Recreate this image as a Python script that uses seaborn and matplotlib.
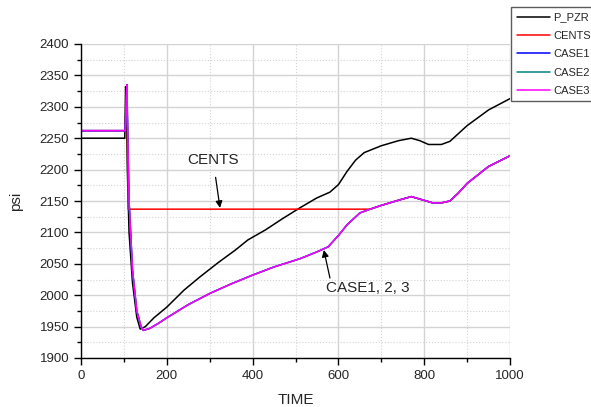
import matplotlib
matplotlib.use("Agg")
import matplotlib.pyplot as plt
from matplotlib.ticker import MultipleLocator
import numpy as np
import pandas as pd
import seaborn as sns

# values
pzr_time = [0, 100, 102, 104, 106, 108, 112, 120, 130, 138, 150, 170, 200, 240, 277, 320, 360, 389,
            430, 470, 510, 550, 580, 600, 620, 640, 660, 700, 740, 770, 790, 810, 840, 860,
            900, 950, 1000]
pzr_val = [2250, 2250, 2250, 2332, 2300, 2200, 2100, 2020, 1965, 1946, 1950, 1964, 1981, 2008, 2029,
           2052, 2072, 2088, 2104, 2122, 2139, 2155, 2164, 2176, 2197, 2215, 2227, 2238, 2246, 2250,
           2246, 2240, 2240, 2245, 2270, 2295, 2313]

case_time = [0, 100, 103, 105, 107, 109, 112, 120, 130, 140, 145, 160, 180, 200, 250, 301, 350,
             400, 450, 510, 550, 576, 600, 620, 650, 674, 700, 744, 770, 790, 820, 840, 860,
             880, 900, 950, 1000]
case3_val = [2262, 2262, 2262, 2300, 2335, 2250, 2150, 2040, 1975, 1950, 1944, 1947, 1955, 1964,
             1985, 2003, 2018, 2032, 2045, 2058, 2069, 2077, 2095, 2112, 2131, 2137, 2143, 2152,
             2157, 2153, 2147, 2147, 2150, 2163, 2178, 2205, 2222]
case1_val = list(case3_val)
case2_val = list(case3_val)

cents_time = [0, 100, 103, 105, 107, 110, 674, 700, 744, 770, 790, 820, 840, 860, 880, 900, 950, 1000]
cents_val = [2262, 2262, 2262, 2300, 2335, 2137, 2137, 2143, 2152, 2157, 2153, 2147, 2147, 2150,
             2163, 2178, 2205, 2222]

series = ["P_PZR", "CENTS", "CASE1", "CASE2", "CASE3"]
colors = ["black", "red", "blue", "#008080", "magenta"]

frames = []
for name, t, v in [("P_PZR", pzr_time, pzr_val), ("CENTS", cents_time, cents_val),
                   ("CASE1", case_time, case1_val), ("CASE2", case_time, case2_val),
                   ("CASE3", case_time, case3_val)]:
    frames.append(pd.DataFrame({"TIME": t, "psi": v, "series": name}))
df = pd.concat(frames, ignore_index=True)

sns.set_style("white")
plt.rcParams["font.family"] = ["Liberation Sans", "DejaVu Sans"]

fig = plt.figure(figsize=(5.91, 4.07), dpi=100)
ax = fig.add_axes([81 / 591, 1 - 358 / 407, 429 / 591, 314 / 407])

sns.lineplot(data=df, x="TIME", y="psi", hue="series", hue_order=series,
             palette=colors, estimator=None, sort=False, linewidth=1.1, ax=ax)

ax.set_xlim(0, 1000)
ax.set_ylim(1900, 2400)
ax.xaxis.set_major_locator(MultipleLocator(200))
ax.xaxis.set_minor_locator(MultipleLocator(100))
ax.yaxis.set_major_locator(MultipleLocator(50))
ax.yaxis.set_minor_locator(MultipleLocator(25))
ax.grid(which="major", color="#d3d3d3", linewidth=1.0)
ax.grid(which="minor", color="#d3d3d3", linewidth=0.8, linestyle=":")
ax.set_axisbelow(True)

for s in ["top", "right"]:
    ax.spines[s].set_visible(False)
for s in ["left", "bottom"]:
    ax.spines[s].set_color("black")
    ax.spines[s].set_linewidth(1.0)
ax.tick_params(which="major", direction="out", length=5, width=1, color="black",
               labelsize=9.5, left=True, bottom=True)
ax.tick_params(which="minor", direction="out", length=3, width=1, color="black",
               left=True, bottom=True)

ax.set_xlabel("TIME", fontsize=11, labelpad=8)
ax.set_ylabel("psi", fontsize=11, labelpad=12)

ax.annotate("CENTS", xy=(324, 2139), xytext=(308, 2215), fontsize=11, ha="center", va="center",
            arrowprops=dict(arrowstyle="-|>", color="black", lw=0.9, shrinkA=5, shrinkB=0,
                            mutation_scale=10))
ax.annotate("CASE1, 2, 3", xy=(566, 2072), xytext=(669, 2011), fontsize=11, ha="center",
            va="center",
            arrowprops=dict(arrowstyle="-|>", color="black", lw=0.9, shrinkA=0, shrinkB=0,
                            mutation_scale=10, relpos=(0.05, 1.1)))

leg = ax.legend(loc="upper left", bbox_to_anchor=(511 / 591, 1 - 7 / 407),
                bbox_transform=fig.transFigure, borderaxespad=0, frameon=True,
                fancybox=False, fontsize=8, handlelength=3.0, handletextpad=0.3,
                labelspacing=0.75, borderpad=0.5, title=None)
leg.get_frame().set_edgecolor("#333333")
leg.get_frame().set_linewidth(1.0)

fig.savefig("out.png", dpi=100)
